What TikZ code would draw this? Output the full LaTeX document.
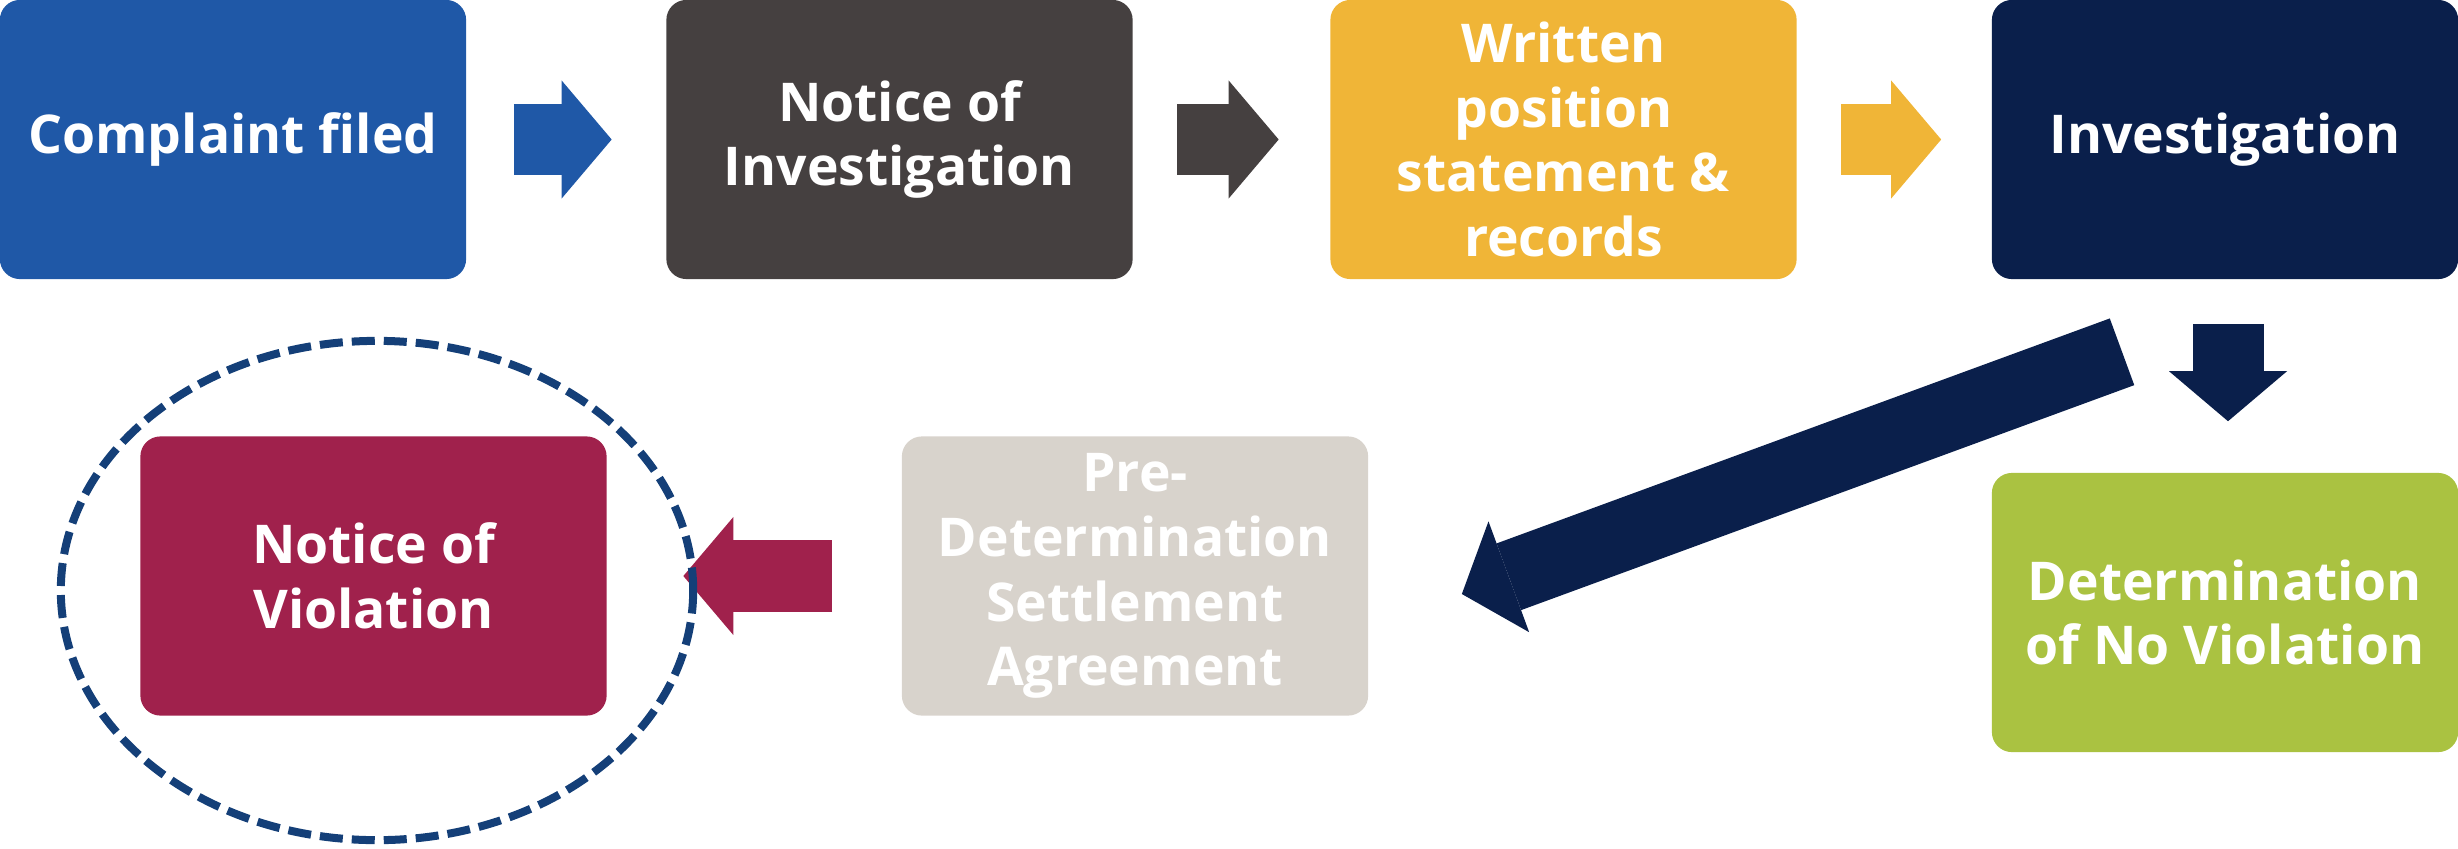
\documentclass[tikz,border=0pt]{standalone}
\usepackage{fontspec}
\setmainfont{Open Sans}
\usepackage{tikz}
\usetikzlibrary{arrows.meta}
\usetikzlibrary{positioning}
\usetikzlibrary{calc}
\definecolor{stepblue}{HTML}{1F58A7}
\definecolor{stepgray}{HTML}{454040}
\definecolor{stepgold}{HTML}{F0B537}
\definecolor{stepnavy}{HTML}{0A1F4B}
\definecolor{stepgreen}{HTML}{AAC241}
\definecolor{stepsand}{HTML}{D8D3CC}
\definecolor{stepwine}{HTML}{A0214C}
\definecolor{ringblue}{HTML}{143F78}
\tikzset{
    stage/.style={rectangle, rounded corners=0.2cm, fill=#1, text=white,
        minimum width=4.66cm, minimum height=2.79cm, inner sep=0pt,
        align=center, font=\fontsize{15.2}{18.4}\selectfont\bfseries},
    flow/.style={draw=#1, line width=0.71cm,
        -{Triangle[length=0.5cm, width=1.18cm, line width=0pt]}},
    ring/.style={draw=ringblue, line width=0.08cm, dash pattern=on 0.23cm off 0.09cm},
}

\begin{document}
\begin{tikzpicture}[x=0.01cm, y=-0.01cm]
\useasboundingbox (0,0) rectangle (2458,848);

% top row
\node[stage=stepblue]  (filed)   at (233,139.5)    {Complaint filed};
\node[stage=stepgray]  (notice)  at (899.5,139.5)  {Notice of\\Investigation};
\node[stage=stepgold]  (written) at (1563.5,139.5) {Written\\position\\statement \&\\records};
\node[stage=stepnavy]  (invest)  at (2225,139.5)   {Investigation};

% bottom row
\node[stage=stepgreen] (novio)   at (2225,612.5)   {Determination\\of No Violation};
\node[stage=stepsand]  (settle)  at (1135,576)     {Pre-\\Determination\\Settlement\\Agreement};
\node[stage=stepwine]  (violate) at (373.5,576)    {Notice of\\Violation};

\draw[flow=stepblue] ($(filed.east)+(47,0)$) -- ($(notice.west)+(-54,0)$);
\draw[flow=stepgray] ($(notice.east)+(44,0)$) -- ($(written.west)+(-51,0)$);
\draw[flow=stepgold] ($(written.east)+(44,0)$) -- ($(invest.west)+(-50,0)$);
\draw[flow=stepnavy] ($(invest.south)+(3,44)$) -- ($(novio.north)+(3,-51)$);
\draw[flow=stepnavy] ($(invest.south)+(-103,72)$) -- ($(settle.east)+(93,18)$);
\draw[flow=stepwine] ($(settle.west)+(-69,0)$) -- ($(violate.east)+(76,0)$);

% dashed ring round the last stage
\draw[ring] ($(violate.center)+(3.5,14.5)$) ellipse [x radius=3.16cm, y radius=2.495cm];
\end{tikzpicture}
\end{document}
